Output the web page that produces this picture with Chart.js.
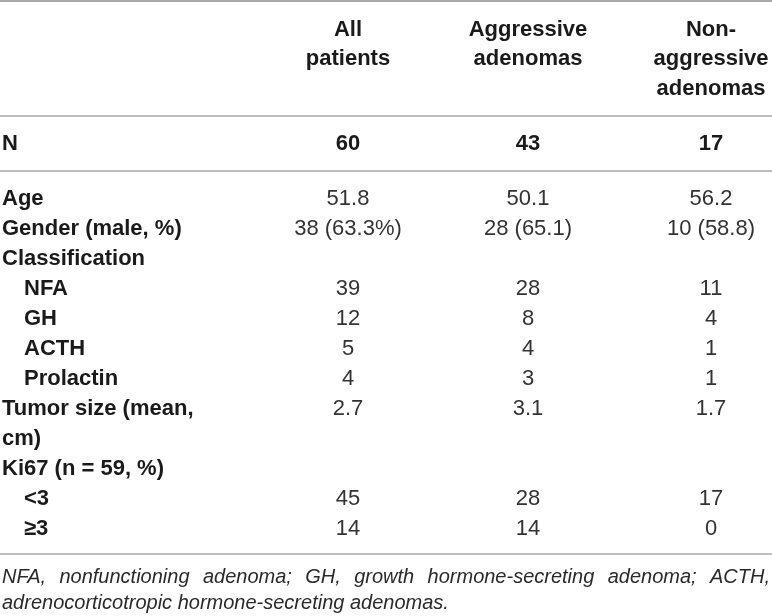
<!DOCTYPE html>
<html>
<head>
<meta charset="utf-8">
<script src="https://cdn.jsdelivr.net/npm/chart.js@4.4.1/dist/chart.umd.min.js"></script>
<style>
  html, body { margin: 0; padding: 0; background: #fff; }
  #wrap { width: 772px; height: 616px; position: relative; }
</style>
</head>
<body>
<div id="wrap"><canvas id="c"></canvas></div>
<script>
// ---- data ----
const columnHeaders = [["All", "patients"], ["Aggressive", "adenomas"], ["Non-", "aggressive", "adenomas"]];
const nLabel = "N";
const nValues = ["60", "43", "17"];
const rowLabels = [["Age"], ["Gender (male, %)"], ["Classification"], ["NFA"], ["GH"], ["ACTH"], ["Prolactin"],
                   ["Tumor size (mean,", "cm)"], ["Ki67 (n = 59, %)"], ["<3"], ["≥3"]];
const rowIndent = [false, false, false, true, true, true, true, false, false, true, true];
const allPatients   = ["51.8", "38 (63.3%)", "", "39", "12", "5", "4", "2.7", "", "45", "14"];
const aggressive    = ["50.1", "28 (65.1)",  "", "28", "8",  "4", "3", "3.1", "", "28", "14"];
const nonAggressive = ["56.2", "10 (58.8)",  "", "11", "4",  "1", "1", "1.7", "", "17", "0"];
const footnote = ["NFA, nonfunctioning adenoma; GH, growth hormone-secreting adenoma; ACTH,",
                  "adrenocorticotropic hormone-secreting adenomas."];

// ---- layout (positions in the 772x616 scale space) ----
const colX = [348, 528, 711];
const labelX = 2, indentX = 24;
const headerY0 = 29.5, headerStep = 29.8;
const nY = 143.5;
const bodyY0 = 198.5, bodyStep = 30;
const ruleYs = [{y: 1, c: "#8a8a8a"}, {y: 116, c: "#a8a8a8"}, {y: 171, c: "#a8a8a8"}, {y: 554, c: "#a8a8a8"}];
const footY = [577, 603];
const FONT = '"Liberation Sans", Arial, Helvetica, sans-serif';

const tablePlugin = {
  id: "tablePlugin",
  afterDraw(chart) {
    const ctx = chart.ctx;
    const xs = chart.scales.x, ys = chart.scales.y;
    const X = v => xs.getPixelForValue(v), Y = v => ys.getPixelForValue(v);
    ctx.save();
    // rules
    ruleYs.forEach(r => {
      ctx.strokeStyle = r.c; ctx.lineWidth = 1.5;
      ctx.beginPath(); ctx.moveTo(X(0), Y(r.y)); ctx.lineTo(X(772), Y(r.y)); ctx.stroke();
    });
    ctx.textBaseline = "middle";
    // headers
    ctx.font = "bold 22px " + FONT; ctx.fillStyle = "#1a1a1a"; ctx.textAlign = "center";
    columnHeaders.forEach((lines, ci) => {
      lines.forEach((t, li) => ctx.fillText(t, X(colX[ci]), Y(headerY0 + li * headerStep)));
    });
    // N row
    ctx.textAlign = "left"; ctx.fillText(nLabel, X(labelX), Y(nY));
    ctx.textAlign = "center";
    nValues.forEach((v, ci) => ctx.fillText(v, X(colX[ci]), Y(nY)));
    // body labels
    let r = 0;
    const rowY = [];
    rowLabels.forEach((lines, i) => {
      rowY.push(bodyY0 + r * bodyStep);
      ctx.font = "bold 22px " + FONT; ctx.fillStyle = "#1a1a1a"; ctx.textAlign = "left";
      lines.forEach((t, li) => {
        ctx.fillText(t, X(rowIndent[i] ? indentX : labelX), Y(bodyY0 + (r + li) * bodyStep));
      });
      r += lines.length;
    });
    // body values
    ctx.font = "22px " + FONT; ctx.fillStyle = "#333333"; ctx.textAlign = "center";
    [allPatients, aggressive, nonAggressive].forEach((col, ci) => {
      col.forEach((v, i) => { if (v) ctx.fillText(v, X(colX[ci]), Y(rowY[i])); });
    });
    // footnote (justified first line)
    ctx.font = "italic 20px " + FONT; ctx.fillStyle = "#2a2a2a"; ctx.textAlign = "left";
    footnote.forEach((line, li) => {
      const y = Y(footY[li]);
      if (li === footnote.length - 1) { ctx.fillText(line, X(2), y); return; }
      const words = line.split(" ");
      const wsum = words.reduce((s, w) => s + ctx.measureText(w).width, 0);
      const gap = (X(770) - X(2) - wsum) / (words.length - 1);
      let x = X(2);
      words.forEach(w => { ctx.fillText(w, x, y); x += ctx.measureText(w).width + gap; });
    });
    ctx.restore();
  }
};

new Chart(document.getElementById("c"), {
  type: "scatter",
  data: { datasets: [{ data: [], pointRadius: 0 }] },
  options: {
    responsive: true, maintainAspectRatio: false, animation: false,
    layout: { padding: 0 },
    plugins: { legend: { display: false }, tooltip: { enabled: false } },
    scales: {
      x: { type: "linear", min: 0, max: 772, display: false },
      y: { type: "linear", min: 0, max: 616, reverse: true, display: false }
    }
  },
  plugins: [tablePlugin]
});
</script>
</body>
</html>
